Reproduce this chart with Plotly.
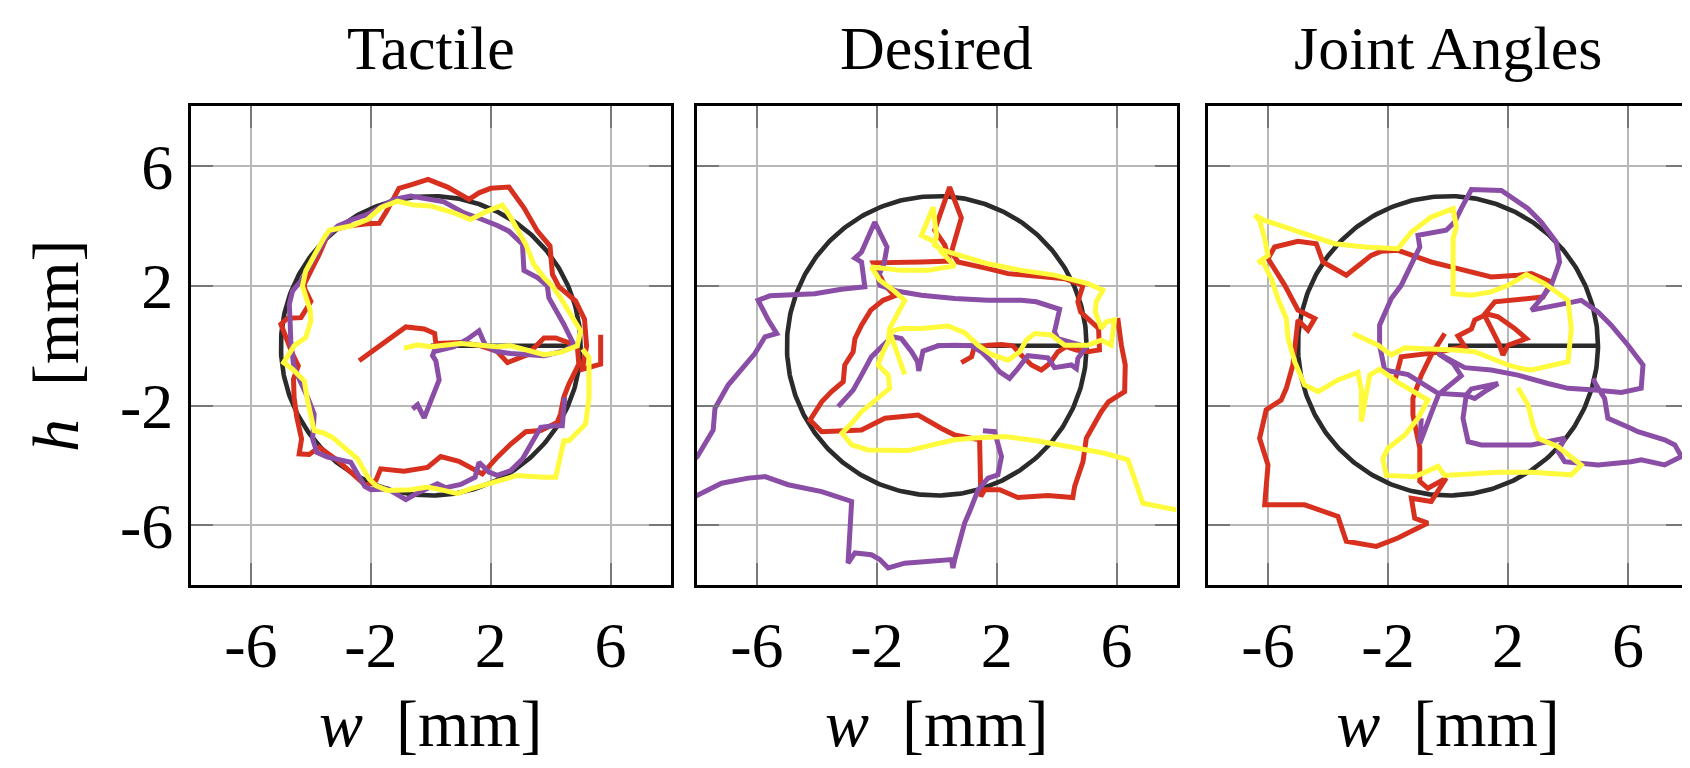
import numpy as np
import plotly.graph_objects as go

# ---------------- data ----------------
PANEL_TITLES = ["Tactile", "Desired", "Joint Angles"]
TICK_VALUES = [-6, -2, 2, 6]
TICK_LABELS = ["-6", "-2", "2", "6"]
AXIS_RANGE = [-8, 8]
RADIUS = 5.0
X_LABEL = "<i>w</i>\u2002[mm]"
Y_LABEL = "<i>h</i>\u2002[mm]"

# Tactile
tactile_red_w = [-2.39, -1.61, -0.83, -0.22, 0.13, 0.17, 1.00, 1.67, 2.22, 2.56, 3.22, 3.78, 4.17, 4.89, 4.94, 4.61, 4.44, 4.33, 4.22, 3.67, 3.17, 2.67, 2.22, 1.72, 1.33, 0.94, 0.33, -0.11, -0.89, -1.67, -1.83, -2.17, -2.67, -3.11, -3.72, -4.06, -4.39, -4.31, -4.47, -4.56, -4.58, -4.42, -4.61, -4.83, -5.00, -4.78, -4.33, -4.00, -4.20, -4.22, -4.00, -3.72, -3.39, -2.78, -2.11, -1.72, -1.47, -1.06, -0.61, -0.09, 0.56, 1.28, 1.61, 2.00, 2.61, 3.11, 3.56, 3.98, 4.06, 4.28, 4.83, 5.13, 5.20, 5.06, 5.67, 5.67]
tactile_red_h = [-0.50, 0.06, 0.63, 0.56, 0.41, 0.08, 0.11, 0.00, -0.19, -0.56, -0.30, 0.26, 0.26, 0.00, -0.61, -1.28, -1.72, -2.28, -2.56, -2.83, -2.87, -3.28, -3.72, -4.28, -4.06, -3.86, -3.70, -4.06, -4.19, -4.11, -4.50, -4.67, -4.22, -3.83, -3.39, -3.63, -3.61, -3.11, -2.39, -1.72, -1.11, -0.67, -0.28, 0.28, 0.72, 0.92, 0.94, 1.48, 1.89, 2.06, 2.50, 3.06, 3.83, 4.00, 4.08, 4.09, 4.50, 5.26, 5.39, 5.56, 5.30, 4.89, 5.11, 5.26, 5.30, 4.61, 3.83, 3.33, 2.39, 1.97, 1.50, 0.89, 0.00, -0.78, -0.61, 0.37]
tactile_purple_w = [-0.61, -0.44, -0.22, 0.28, 0.17, 0.06, 0.11, 0.78, 1.22, 1.61, 1.83, 2.22, 2.67, 3.22, 3.78, 4.44, 4.78, 4.44, 4.11, 3.94, 3.89, 3.56, 3.11, 3.06, 2.61, 2.22, 1.61, 1.11, 0.44, -0.06, -0.67, -1.22, -1.56, -2.11, -2.61, -3.11, -3.50, -3.78, -4.06, -4.33, -4.61, -4.72, -4.69, -4.67, -4.58, -4.39, -4.11, -3.89, -3.94, -3.80, -3.44, -2.67, -2.44, -2.20, -2.00, -1.44, -0.83, -0.44, 0.22, 0.50, 1.00, 1.48, 1.61, 1.94, 2.22, 2.67, 3.06, 3.33, 3.67, 4.11, 4.39, 4.47]
tactile_purple_h = [-2.11, -1.97, -2.41, -1.14, -0.50, -0.33, -0.19, -0.03, 0.22, 0.50, 0.00, -0.19, -0.26, -0.28, -0.33, -0.17, 0.03, 0.72, 1.28, 1.61, 2.00, 2.28, 2.52, 3.39, 3.83, 4.02, 4.26, 4.44, 4.81, 4.89, 5.00, 4.89, 4.70, 4.39, 4.22, 4.00, 3.61, 3.11, 2.61, 2.17, 1.83, 1.39, 0.72, 0.17, -0.61, -1.11, -1.72, -2.28, -3.11, -3.56, -3.72, -3.89, -4.28, -4.70, -4.81, -4.78, -5.14, -4.92, -4.61, -4.74, -4.63, -4.39, -3.89, -4.22, -4.33, -4.17, -3.78, -3.28, -2.72, -2.67, -2.67, -1.72]
tactile_yellow_w = [-0.89, -0.44, 0.00, 1.00, 1.56, 2.22, 2.67, 3.22, 3.78, 4.33, 4.89, 5.00, 4.67, 4.33, 4.00, 3.78, 3.44, 3.17, 2.67, 2.39, 1.89, 1.33, 0.78, 0.00, -0.56, -1.11, -1.67, -2.11, -2.67, -3.39, -3.56, -3.89, -4.17, -4.28, -4.17, -4.02, -4.00, -4.17, -4.56, -4.91, -4.61, -4.22, -4.11, -3.89, -3.56, -3.28, -2.89, -2.44, -2.22, -2.06, -1.83, -1.44, -0.67, -0.11, 0.44, 0.89, 1.33, 1.89, 2.44, 2.89, 3.78, 4.17, 4.44, 4.61, 5.17, 5.28, 5.28, 5.06]
tactile_yellow_h = [-0.08, 0.03, -0.03, 0.08, 0.03, -0.03, 0.00, -0.17, -0.30, -0.22, 0.00, 0.50, 1.06, 1.61, 2.06, 2.28, 2.72, 3.39, 4.28, 4.70, 4.50, 4.22, 4.44, 4.67, 4.70, 4.83, 4.61, 4.22, 4.00, 3.86, 3.61, 3.00, 2.50, 2.00, 1.61, 1.17, 0.83, 0.28, 0.00, -0.56, -0.78, -1.17, -1.83, -2.83, -2.92, -3.06, -3.39, -3.78, -4.17, -4.44, -4.67, -4.83, -4.81, -4.72, -4.83, -4.94, -4.78, -4.61, -4.48, -4.33, -4.39, -4.39, -3.17, -3.17, -2.61, -1.72, -0.39, -0.11]

# Desired
desired_red_w = [0.82, 1.16, 1.24, 1.71, 2.16, 2.54, 2.82, 3.16, 3.49, 3.77, 4.04, 4.32, 4.66, 5.04, 5.43, 5.40, 5.04, 4.80, 4.71, 4.88, 4.27, 3.49, 2.38, 1.71, 0.71, 0.49, 0.82, 0.43, 0.10, -0.07, 0.27, 0.43, -0.51, -1.18, -2.12, -1.73, -1.40, -1.79, -2.20, -2.51, -2.73, -2.79, -3.07, -3.12, -3.51, -3.84, -4.23, -3.84, -3.12, -2.51, -1.73, -0.62, 0.16, 0.60, 1.43, 1.47, 1.60, 2.10, 2.71, 3.71, 4.54, 4.60, 4.88, 4.99, 5.49, 5.73, 6.27, 6.29, 6.16, 6.04]
desired_red_h = [-0.56, -0.37, -0.09, 0.02, 0.04, 0.00, -0.31, -0.64, -0.81, -0.59, -0.20, -0.03, -0.14, -0.20, -0.14, 0.58, 0.91, 1.13, 1.47, 2.02, 2.24, 2.30, 2.41, 2.58, 2.80, 3.13, 4.27, 5.30, 4.36, 3.86, 3.36, 2.83, 2.80, 2.80, 2.77, 2.02, 1.67, 1.52, 1.19, 0.69, 0.24, -0.20, -0.64, -1.20, -1.53, -1.87, -2.48, -2.87, -2.84, -2.81, -2.42, -2.31, -2.76, -2.98, -3.14, -5.03, -4.81, -4.81, -5.07, -5.00, -5.07, -4.70, -3.87, -3.09, -2.20, -1.87, -1.53, -0.64, 0.02, 0.93]
desired_purple_w = [1.54, 1.93, 2.16, 2.04, 1.71, 1.38, 1.10, 0.93, 0.60, 0.54, 0.49, -0.29, -1.07, -1.62, -1.90, -2.18, -2.73, -2.96, -2.84, -3.84, -4.96, -5.73, -6.29, -7.18, -7.99, -8.60, -8.60, -7.99, -7.46, -7.40, -6.96, -6.51, -6.07, -5.73, -5.34, -5.62, -5.96, -5.57, -4.84, -4.07, -3.18, -2.40, -2.51, -2.73, -2.51, -2.07, -1.66, -1.76, -1.96, -1.90, -1.29, -0.51, 0.60, 1.71, 2.82, 3.32, 4.10, 3.93, 4.04, 4.60, 4.99, 4.71, 4.66, 4.49, 3.93, 3.71, 3.04, 2.71, 2.43, 2.10, 1.82, 1.49, 1.16, 0.60, 0.04, -0.46, -0.60, -0.64, -0.84, -1.18, -1.49, -1.84, -2.18, -2.51, -2.79, -3.29]
desired_purple_h = [-2.84, -2.87, -3.70, -4.31, -4.42, -4.81, -5.53, -5.92, -7.14, -7.42, -7.14, -7.18, -7.26, -7.42, -7.14, -6.98, -6.92, -7.26, -5.20, -4.87, -4.64, -4.37, -4.42, -4.59, -4.96, -5.30, -4.20, -3.70, -2.81, -2.09, -1.31, -0.76, -0.26, 0.30, 0.41, 0.86, 1.52, 1.67, 1.71, 1.74, 1.89, 1.97, 2.80, 2.93, 3.13, 4.13, 3.30, 2.74, 2.30, 2.02, 1.82, 1.69, 1.58, 1.52, 1.52, 1.47, 1.22, 0.47, 0.24, 0.08, -0.03, -0.42, -0.76, -0.64, -0.73, -0.40, -0.33, -0.76, -1.09, -0.87, -0.53, -0.20, 0.00, 0.02, 0.00, -0.18, -0.84, -0.53, -0.20, 0.24, 0.30, -0.03, -0.37, -0.98, -1.48, -2.03]
desired_yellow_w = [-1.07, -1.57, -1.18, -0.51, 0.38, 0.93, 1.38, 1.82, 2.38, 2.77, 2.99, 3.27, 3.82, 4.27, 5.04, 5.49, 5.82, 5.93, 5.66, 5.49, 5.29, 5.32, 5.54, 5.04, 3.93, 2.82, 1.71, 0.60, 0.21, -0.07, -0.01, -0.12, -0.51, -0.07, 0.16, 0.60, -0.29, -1.18, -2.18, -1.90, -1.51, -1.07, -1.34, -1.57, -1.62, -1.79, -1.96, -1.62, -1.57, -2.07, -2.51, -2.84, -3.16, -2.84, -2.29, -0.96, -0.29, 0.60, 1.38, 2.27, 3.38, 4.49, 5.60, 6.38, 6.88, 7.99]
desired_yellow_h = [-0.96, 0.47, 0.58, 0.58, 0.66, 0.44, 0.02, -0.29, -0.48, -0.20, 0.19, 0.41, 0.36, 0.02, 0.02, 0.19, 0.02, 0.86, 0.80, 0.58, 1.13, 1.47, 1.86, 2.08, 2.36, 2.52, 2.74, 3.08, 3.19, 3.36, 3.69, 4.63, 3.69, 3.47, 3.13, 2.67, 2.52, 2.52, 2.63, 2.19, 1.91, 1.52, 1.02, 0.58, 0.13, -0.20, -0.64, -0.98, -1.42, -1.81, -2.20, -2.59, -2.92, -3.31, -3.48, -3.50, -3.33, -3.14, -3.07, -3.03, -3.18, -3.37, -3.59, -3.81, -5.26, -5.48]

# Joint Angles
joint_red_w = [-0.11, -0.56, -0.89, -1.17, -1.17, -0.94, -0.94, -0.67, -0.06, -0.56, -1.22, -1.11, -0.67, -1.67, -2.39, -3.39, -3.67, -4.78, -6.11, -6.00, -6.28, -6.06, -5.56, -5.39, -5.17, -5.06, -5.00, -4.67, -4.44, -5.00, -5.44, -6.00, -5.78, -5.00, -4.39, -4.17, -3.39, -2.56, -2.22, -1.67, -0.56, 0.33, 1.44, 2.33, 2.78, 3.44, 3.17, 1.56, 1.24, 1.67, 2.22, 2.61, 2.00, 1.83, 1.72, 1.44, 1.22, 0.89, 0.78, 0.33, 0.56, 0.22, -0.33, -1.56, -1.78]
joint_red_h = [0.41, -0.31, -0.98, -1.76, -2.31, -3.42, -4.53, -4.76, -4.42, -5.20, -5.09, -5.76, -5.92, -6.42, -6.70, -6.53, -5.70, -5.31, -5.31, -3.98, -3.09, -2.14, -1.81, -1.42, -0.64, 0.47, 0.86, 0.52, 0.91, 1.19, 2.02, 2.91, 3.30, 3.49, 3.41, 2.80, 2.36, 3.02, 3.16, 3.19, 2.80, 2.58, 2.30, 2.36, 2.41, 2.13, 1.63, 1.47, 1.08, 0.97, 0.58, 0.24, 0.02, -0.31, 0.02, 0.58, 1.02, 0.86, 0.56, 0.33, -0.03, -0.09, -0.22, -0.37, -1.20]
joint_purple_w = [-0.89, -0.94, -0.56, -0.31, 0.44, 0.17, -0.33, 0.56, 1.44, 2.33, 3.33, 4.00, 4.89, 5.78, 6.44, 6.50, 6.00, 5.44, 5.00, 4.44, 3.89, 2.78, 3.11, 3.44, 3.72, 3.61, 3.11, 2.67, 1.78, 0.78, 0.44, 0.22, -0.06, -1.00, -0.94, -1.22, -1.56, -1.89, -2.28, -2.28, -2.17, -2.11, -1.33, -0.78, -0.33, 0.56, 0.89, 1.22, 1.67, 0.78, 0.61, 0.50, 0.67, 1.11, 2.78, 3.89, 3.67, 3.89, 5.00, 6.11, 6.44, 7.22, 7.78, 7.56, 7.22, 6.33, 6.11, 5.33, 5.22, 4.94, 4.83]
joint_purple_h = [-2.42, -3.26, -2.26, -1.62, -1.00, -0.59, -0.26, -0.73, -0.81, -0.98, -1.26, -1.42, -1.48, -1.56, -1.42, -0.64, 0.02, 0.69, 1.13, 1.52, 1.41, 1.19, 1.58, 2.02, 2.80, 3.47, 4.13, 4.58, 5.19, 5.22, 4.58, 4.13, 3.86, 3.69, 3.30, 2.69, 2.02, 1.58, 0.69, 0.02, -0.53, -0.81, -0.96, -1.31, -1.59, -1.64, -1.76, -1.53, -1.26, -1.44, -1.64, -2.42, -3.20, -3.31, -3.31, -3.09, -3.53, -3.87, -3.98, -3.87, -3.81, -3.98, -3.70, -3.31, -3.14, -2.87, -2.76, -2.42, -1.76, -1.31, -1.09]
joint_yellow_w = [2.33, 2.67, 2.83, 3.00, 3.67, 4.11, 4.44, 4.11, 2.78, 1.67, 0.56, -0.11, -0.33, -1.11, -2.06, -2.17, -2.00, -1.44, -1.00, -0.67, -1.67, -2.28, -2.61, -2.89, -2.89, -3.00, -3.67, -4.33, -4.78, -5.11, -5.33, -5.39, -5.67, -5.89, -6.17, -6.33, -6.00, -6.11, -6.28, -6.44, -6.11, -5.00, -3.78, -2.78, -1.67, -1.22, -0.56, 0.17, 0.28, 0.17, 0.17, 0.17, 0.78, 1.44, 2.00, 2.61, 3.22, 4.00, 4.11, 4.00, 2.78, 2.44, 2.00, 1.44, 0.89, 0.22, -0.56, -1.44, -1.89, -2.33, -3.17]
joint_yellow_h = [-1.40, -1.98, -2.64, -3.09, -3.37, -3.70, -3.98, -4.31, -4.22, -4.22, -4.31, -4.33, -4.03, -4.37, -4.33, -3.76, -3.42, -2.98, -2.42, -1.81, -1.22, -0.78, -0.98, -2.53, -1.48, -0.89, -1.14, -1.53, -1.31, -0.53, 0.24, 0.91, 1.58, 2.24, 2.80, 2.78, 3.02, 3.58, 4.19, 4.36, 4.19, 3.80, 3.41, 3.30, 3.24, 3.80, 4.30, 4.58, 3.97, 3.58, 2.69, 1.74, 1.69, 1.80, 2.02, 2.38, 2.08, 1.52, 0.58, -0.53, -0.81, -0.76, -0.64, -0.42, -0.20, -0.14, -0.09, -0.07, -0.31, 0.02, 0.41]

RED = "#d7301f"
PURPLE = "#8b4ea6"
YELLOW = "#fffb3c"
REF_COLOR = "#2b2b2b"

panels = [
    [(tactile_red_w, tactile_red_h, RED), (tactile_purple_w, tactile_purple_h, PURPLE), (tactile_yellow_w, tactile_yellow_h, YELLOW)],
    [(desired_red_w, desired_red_h, RED), (desired_purple_w, desired_purple_h, PURPLE), (desired_yellow_w, desired_yellow_h, YELLOW)],
    [(joint_red_w, joint_red_h, RED), (joint_purple_w, joint_purple_h, PURPLE), (joint_yellow_w, joint_yellow_h, YELLOW)],
]

# ---------------- figure ----------------
W, H = 1690, 768
x_domains = [[183 / W, 662.5 / W], [689 / W, 1168.5 / W], [1200 / W, 1680 / W]]
y_domain = [1 - 577.3 / H, 1 - 98.3 / H]
FONT = "Liberation Serif"
LINE_W = 5.0

theta = np.linspace(0, 2 * np.pi, 361)
circle_w = RADIUS * np.cos(theta)
circle_h = RADIUS * np.sin(theta)

fig = go.Figure()
for i, traces in enumerate(panels):
    xa = "x" if i == 0 else f"x{i+1}"
    ya = "y" if i == 0 else f"y{i+1}"
    fig.add_trace(go.Scatter(x=circle_w, y=circle_h, mode="lines", xaxis=xa, yaxis=ya,
                             line=dict(color=REF_COLOR, width=4.6), hoverinfo="skip"))
    fig.add_trace(go.Scatter(x=[0, RADIUS], y=[0, 0], mode="lines", xaxis=xa, yaxis=ya,
                             line=dict(color=REF_COLOR, width=4.6), hoverinfo="skip"))
    for w, h, c in traces:
        fig.add_trace(go.Scatter(x=w, y=h, mode="lines", xaxis=xa, yaxis=ya,
                                 line=dict(color=c, width=LINE_W)))

axis_common = dict(
    range=AXIS_RANGE, tickvals=TICK_VALUES, ticktext=TICK_LABELS,
    showgrid=True, gridcolor="#b8b8b8", gridwidth=2.2, zeroline=False,
    showline=True, linecolor="black", linewidth=3, mirror="ticks",
    ticks="inside", ticklen=22, tickcolor="#777777", tickwidth=2.2,
    tickfont=dict(family=FONT, size=64, color="black"),
    fixedrange=True,
)

layout = dict(
    width=W, height=H, autosize=False,
    margin=dict(l=0, r=0, t=0, b=0),
    paper_bgcolor="white", plot_bgcolor="white",
    showlegend=False,
    font=dict(family=FONT, color="black"),
)
for i in range(3):
    xk = "xaxis" if i == 0 else f"xaxis{i+1}"
    yk = "yaxis" if i == 0 else f"yaxis{i+1}"
    ya = "y" if i == 0 else f"y{i+1}"
    xa = "x" if i == 0 else f"x{i+1}"
    layout[xk] = dict(axis_common, domain=x_domains[i], anchor=ya,
                      ticklabelstandoff=2,
                      title=dict(text=X_LABEL, font=dict(family=FONT, size=66), standoff=20))
    layout[yk] = dict(axis_common, domain=y_domain, anchor=xa,
                      showticklabels=(i == 0), ticklabelstandoff=2,
                      title=dict(text=Y_LABEL if i == 0 else "", font=dict(family=FONT, size=66), standoff=20))
fig.update_layout(**layout)

for i, t in enumerate(PANEL_TITLES):
    fig.add_annotation(text=t, xref="paper", yref="paper",
                       x=sum(x_domains[i]) / 2, y=1 - 4 / H,
                       xanchor="center", yanchor="top", showarrow=False,
                       font=dict(family=FONT, size=62, color="black"))

fig.write_html("out.html")
